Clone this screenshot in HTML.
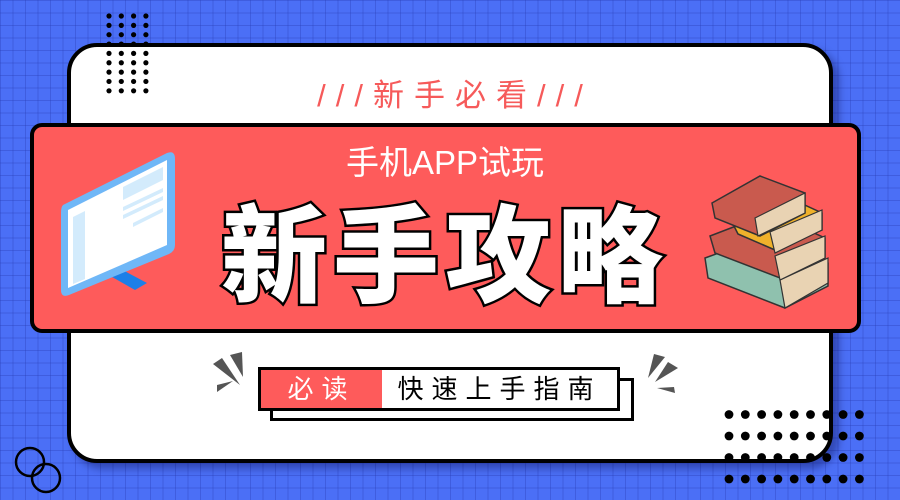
<!DOCTYPE html>
<html><head><meta charset="utf-8">
<style>
html,body{margin:0;padding:0}
body{width:900px;height:500px;overflow:hidden;position:relative;
background-color:#4b6ff6;
background-image:linear-gradient(rgba(40,60,180,.35) 1px,transparent 1px),linear-gradient(90deg,rgba(40,60,180,.35) 1px,transparent 1px);
background-size:12.5px 12.5px;font-family:"Liberation Sans","Noto Sans CJK SC",sans-serif}
.abs{position:absolute}
</style></head><body>
<div class="abs" style="left:67px;top:43px;width:758px;height:412px;background:#fff;border:4px solid #000;border-radius:30px;box-shadow:6px 6px 8px rgba(0,0,60,.35)"></div>
<svg class="abs" style="left:0;top:0" width="900" height="500">
<g fill="#000" id="tl"></g>
</svg>
<div class="abs" style="left:5px;width:900px;top:76px;text-align:center;color:#f65a5a;font-size:31px;letter-spacing:10px;line-height:40px">///新手必看///</div>
<div class="abs" style="left:30px;top:123px;width:823px;height:202px;background:#fe5b5b;border:4px solid #000;border-radius:12px"></div>
<div class="abs" style="left:0;width:890px;top:143px;text-align:center;color:#fff;font-size:33px;line-height:40px">手机APP试玩</div>
<div class="abs" style="left:0;width:890px;top:188px;text-align:center;color:#fff;font-size:106px;font-weight:900;line-height:120px;letter-spacing:6px;-webkit-text-stroke:5px #000;paint-order:stroke fill;font-family:'Noto Sans CJK SC',sans-serif">新手攻略</div>
<svg class="abs" style="left:55px;top:145px" width="130" height="155">
<polygon points="50,128 80,145 92,138 62,122" fill="#1c7fe8"/>
<path d="M8,60 L112,8 Q120,5 120,14 L120,100 Q120,106 114,109 L14,150 Q6,153 6,145 L6,68 Q6,62 8,60 Z" fill="#6fb7f7"/>
<path d="M13,65 L112,15 L112,100 L13,143 Z" fill="#fff"/>
<path d="M18,72 L30,66 L30,134 L18,139 Z" fill="#d3ebfc"/>
<path d="M68,42 L108,22 L108,35 L68,55 Z" fill="#d3ebfc"/>
<path d="M68,62 L108,43 L108,47 L68,66 Z M68,70 L108,51 L108,55 L68,74 Z M78,78 L108,63 L108,67 L78,82 Z" fill="#d3ebfc"/>
</svg>
<svg class="abs" style="left:700px;top:168px" width="135" height="145">
<path d="M5,90 L60,70 L128,95 L128,118 L85,140 L8,110 Z" fill="#8fc1ae" stroke="#333" stroke-width="1.5"/>
<path d="M80,112 L128,90 L128,115 L85,140 Z" fill="#e9d3b3" stroke="#333" stroke-width="1.2"/>
<path d="M10,68 L70,45 L125,70 L125,90 L80,110 L15,85 Z" fill="#c95a4e" stroke="#333" stroke-width="1.5"/>
<path d="M75,88 L125,68 L125,90 L80,112 Z" fill="#e9d3b3" stroke="#333" stroke-width="1.2"/>
<path d="M30,50 L85,28 L122,45 L122,62 L75,82 L38,66 Z" fill="#efb12b" stroke="#333" stroke-width="1.5"/>
<path d="M70,64 L122,42 L122,62 L75,85 Z" fill="#e9d3b3" stroke="#333" stroke-width="1.2"/>
<path d="M12,35 L60,8 L105,25 L105,45 L60,68 L15,50 Z" fill="#c95a4e" stroke="#333" stroke-width="1.5"/>
<path d="M55,50 L105,25 L105,45 L58,68 Z" fill="#e9d3b3" stroke="#333" stroke-width="1.2"/>
</svg>
<div class="abs" style="left:270px;top:378px;width:358px;height:37px;border:3px solid #000;background:#fff"></div>
<div class="abs" style="left:258px;top:367px;width:121px;height:38px;border:3px solid #000;border-right:2px solid #000;background:#fe5b5b;color:#fff;font-size:26px;line-height:38px;text-align:center;letter-spacing:8px">必读</div>
<div class="abs" style="left:382px;top:367px;width:235px;height:38px;border:3px solid #000;border-left:none;background:#fff;color:#000;font-size:26px;line-height:38px;text-align:center;letter-spacing:8px">快速上手指南</div>
<svg class="abs" style="left:0;top:0" width="900" height="500">
<g fill="#555">
<polygon points="230,355 242,352 243,377"/><polygon points="213,364 222,358 240,385"/><polygon points="217,385 233,381 217,392"/>
<polygon points="654,354 665,357 648,378"/><polygon points="668,362 678,368 655,382"/><polygon points="657,388 674,387 675,393"/>
</g>
<g fill="none" stroke="#000" stroke-width="2.5"><circle cx="30" cy="462" r="14"/><circle cx="46" cy="478" r="14"/></g>
<g fill="#000" id="br"></g>
</svg>
<script>
var tl=document.getElementById('tl');
for(var i=0;i<4;i++)for(var j=0;j<9;j++){var c=document.createElementNS('http://www.w3.org/2000/svg','circle');c.setAttribute('cx',109+i*12.3);c.setAttribute('cy',16+j*9.35);c.setAttribute('r',2.6);tl.appendChild(c);}
var br=document.getElementById('br');
for(var i=0;i<9;i++)for(var j=0;j<4;j++){var c=document.createElementNS('http://www.w3.org/2000/svg','circle');c.setAttribute('cx',729+i*16.3);c.setAttribute('cy',414.5+j*21.5);c.setAttribute('r',4.4);br.appendChild(c);}
</script>
</body></html>
